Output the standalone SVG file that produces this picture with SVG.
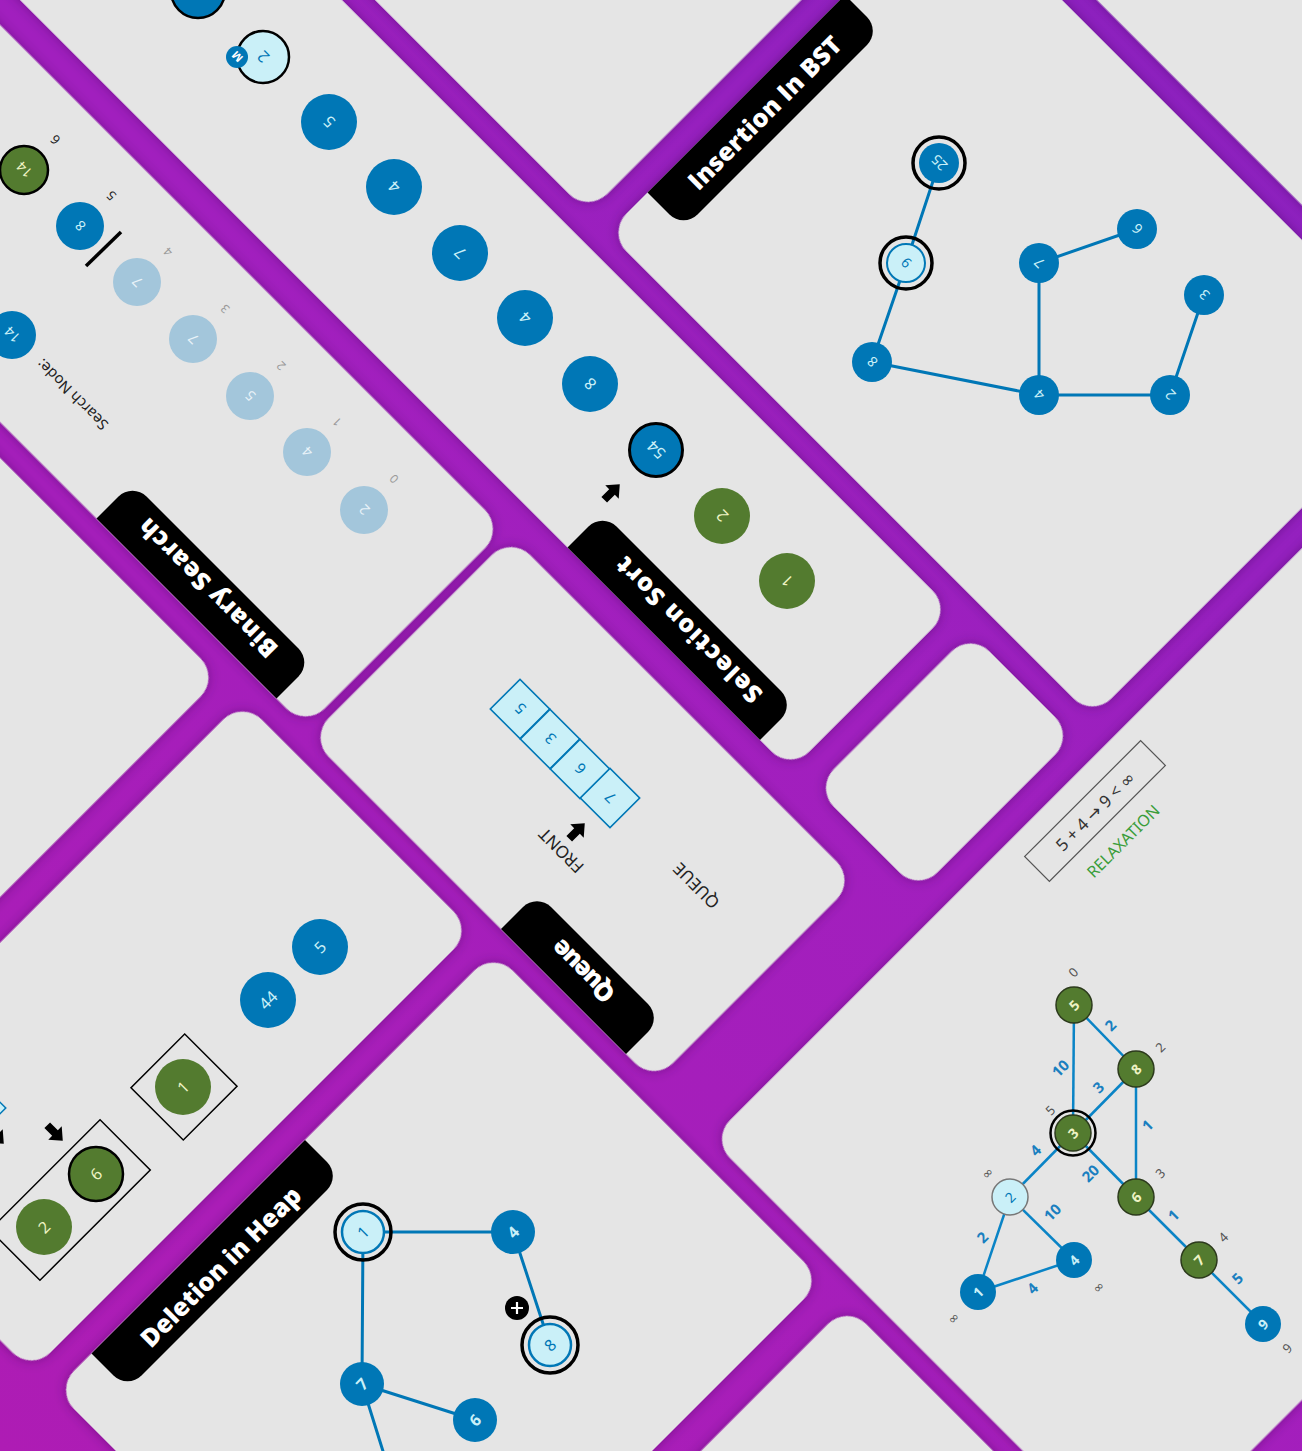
<svg xmlns="http://www.w3.org/2000/svg" width="1302" height="1451" viewBox="0 0 1302 1451">
<defs>
<linearGradient id="bg" gradientUnits="userSpaceOnUse" x1="0" y1="1451" x2="1302" y2="0">
<stop offset="0" stop-color="#ae1cb4"/><stop offset="0.55" stop-color="#a11fbe"/><stop offset="1" stop-color="#8a21c0"/>
</linearGradient>
<filter id="sh" filterUnits="userSpaceOnUse" x="-4000" y="-4000" width="10000" height="10000">
<feDropShadow dx="0" dy="0" stdDeviation="8" flood-color="#3a0752" flood-opacity="0.45"/>
</filter>
<path id="arr" d="M-4,-11H4V0H9.5L0,11L-9.5,0H-4Z"/>
<style>
.card{fill:#e5e5e5}
.tab{fill:#000}
.tt{font-family:"Open Sans","Noto Sans",sans-serif;font-weight:800;font-size:25px;fill:#fff;text-anchor:middle;dominant-baseline:central}
.lb{font-family:"Noto Sans","DejaVu Sans",sans-serif;text-anchor:middle;dominant-baseline:central}
.nb{fill:#0077b6}
.nl{fill:#caf0f8}
.ng{fill:#537b2f}
.nf{fill:#a3c6db}
.wb{fill:#caf0f8}
.wl{fill:#0077b6}
.wg{fill:#eef3c4}
.edge{stroke:#0077b6;stroke-width:3;stroke-linecap:round}
.ring{fill:none;stroke:#000;stroke-width:3.5}
.idx{fill:#9a9a9a}
.dk{fill:#222}
.wt{fill:#1a7fc0;font-weight:700}
.ds{fill:#555}
</style>
</defs>
<rect width="1302" height="1451" fill="url(#bg)"/>

<!-- cards in rotated grid (p = X-Y, s = X+Y) -->
<g id="cards" transform="matrix(0.5,-0.5,0.5,0.5,0,0)" filter="url(#sh)">
<rect id="card-a1" class="card" x="-1700" y="-400" width="1242" height="1297" rx="38"/>
<rect id="card-a2" class="card" x="-1340" y="943" width="882" height="460" rx="38"/>
<rect id="card-a3" class="card" x="-1335" y="1445" width="877" height="658" rx="38"/>
<rect id="card-a4" class="card" x="-1335" y="2152" width="877" height="900" rx="38"/>
<rect id="card-b1" class="card" x="-422" y="-500" width="397" height="1533" rx="38"/>
<rect id="card-b2" class="card" x="-428" y="1047" width="403" height="689" rx="38"/>
<rect id="card-c1" class="card" x="20" y="-500" width="322" height="2061" rx="38"/>
<rect id="card-c2" class="card" x="27" y="1603" width="311" height="207" rx="38"/>
<rect id="card-d1" class="card" x="375" y="-500" width="687" height="1301" rx="38"/>
<rect id="card-d2" class="card" x="375" y="840" width="687" height="970" rx="38"/>
<rect id="card-e1" class="card" x="1097" y="-500" width="900" height="2310" rx="38"/>
<rect id="card-f" class="card" x="-428" y="1850" width="1490" height="852" rx="38"/>
</g>
<g id="tabs" transform="matrix(0.5,-0.5,0.5,0.5,0,0)">
<path class="tab" d="M -422 615 H -378 A 28 28 0 0 1 -350 643 V 947 A 28 28 0 0 1 -378 975 H -422 Z"/>
<path class="tab" d="M 20 1115 H 62 A 28 28 0 0 1 90 1143 V 1472 A 28 28 0 0 1 62 1500 H 20 Z"/>
<path class="tab" d="M -428 1430 H -384 A 28 28 0 0 1 -356 1458 V 1652 A 28 28 0 0 1 -384 1680 H -428 Z"/>
<path class="tab" d="M 455 840 V 884 A 28 28 0 0 0 483 912 H 822 A 28 28 0 0 0 850 884 V 840 Z"/>
<path class="tab" d="M -1262 1445 V 1489 A 28 28 0 0 0 -1234 1517 H -863 A 28 28 0 0 0 -835 1489 V 1445 Z"/>
</g>
<g id="tab-labels">
<text class="tt" textLength="185" transform="translate(207 589) rotate(225)">Binary Search</text>
<text class="tt" textLength="195" transform="translate(688 631) rotate(225)">Selection Sort</text>
<text class="tt" textLength="78" transform="translate(582 972) rotate(225)">Queue</text>
<text class="tt" textLength="205" transform="translate(764 112) rotate(-45)">Insertion In BST</text>
<text class="tt" textLength="215" transform="translate(220 1266) rotate(-45)">Deletion in Heap</text>
</g>

<!-- Selection Sort -->
<g id="selection-sort">
<g id="ss-n0"><circle cx="198" cy="-9" r="27" class="nb" stroke="#000" stroke-width="2.5"/></g>
<g id="ss-n1"><circle cx="263" cy="57" r="26" class="nl" stroke="#000" stroke-width="2.5"/><text class="lb wl" font-size="16" transform="translate(263 57) rotate(225)">2</text></g>
<g id="ss-badge"><circle cx="237" cy="57" r="11" class="nb"/><text class="lb" fill="#fff" font-size="11" font-weight="700" transform="translate(237 57) rotate(225)">M</text></g>
<g id="ss-n2"><circle cx="329" cy="122" r="28" class="nb"/><text class="lb wb" font-size="16" transform="translate(329 122) rotate(225)">5</text></g>
<g id="ss-n3"><circle cx="394" cy="187" r="28" class="nb"/><text class="lb wb" font-size="16" transform="translate(394 187) rotate(225)">4</text></g>
<g id="ss-n4"><circle cx="460" cy="253" r="28" class="nb"/><text class="lb wb" font-size="16" transform="translate(460 253) rotate(225)">7</text></g>
<g id="ss-n5"><circle cx="525" cy="318" r="28" class="nb"/><text class="lb wb" font-size="16" transform="translate(525 318) rotate(225)">4</text></g>
<g id="ss-n6"><circle cx="590" cy="384" r="28" class="nb"/><text class="lb wb" font-size="16" transform="translate(590 384) rotate(225)">8</text></g>
<g id="ss-n7"><circle cx="656" cy="450" r="26.5" class="nb" stroke="#000" stroke-width="3"/><text class="lb wb" font-size="16" transform="translate(656 450) rotate(225)">54</text></g>
<g id="ss-n8"><circle cx="722" cy="516" r="28" class="ng"/><text class="lb wg" font-size="16" transform="translate(722 516) rotate(225)">2</text></g>
<g id="ss-n9"><circle cx="787" cy="581" r="28" class="ng"/><text class="lb wg" font-size="16" transform="translate(787 581) rotate(225)">1</text></g>
<use href="#arr" transform="translate(612 492) rotate(225)"/>
</g>

<!-- Binary Search -->
<g id="binary-search">
<g id="bs-n14g"><circle cx="24" cy="170" r="24" class="ng" stroke="#000" stroke-width="2.5"/><text class="lb wg" font-size="14" transform="translate(24 170) rotate(225)">14</text></g>
<text class="lb dk" font-size="13" transform="translate(55 140) rotate(225)">6</text>
<g id="bs-n8"><circle cx="80" cy="226" r="24" class="nb"/><text class="lb wb" font-size="14" transform="translate(80 226) rotate(225)">8</text></g>
<text class="lb dk" font-size="13" transform="translate(111 196) rotate(225)">5</text>
<line x1="86" y1="266" x2="121" y2="232" stroke="#000" stroke-width="3.5"/>
<g id="bs-f4"><circle cx="137" cy="282" r="24" class="nf"/><text class="lb" fill="#e8f2f8" font-size="14" transform="translate(137 282) rotate(225)">7</text></g>
<g id="bs-f3"><circle cx="193" cy="339" r="24" class="nf"/><text class="lb" fill="#e8f2f8" font-size="14" transform="translate(193 339) rotate(225)">7</text></g>
<g id="bs-f2"><circle cx="250" cy="396" r="24" class="nf"/><text class="lb" fill="#e8f2f8" font-size="14" transform="translate(250 396) rotate(225)">5</text></g>
<g id="bs-f1"><circle cx="307" cy="452" r="24" class="nf"/><text class="lb" fill="#e8f2f8" font-size="14" transform="translate(307 452) rotate(225)">4</text></g>
<g id="bs-f0"><circle cx="364" cy="510" r="24" class="nf"/><text class="lb" fill="#e8f2f8" font-size="14" transform="translate(364 510) rotate(225)">2</text></g>
<text class="lb idx" font-size="12" transform="translate(168 252) rotate(225)">4</text>
<text class="lb idx" font-size="12" transform="translate(225 309) rotate(225)">3</text>
<text class="lb idx" font-size="12" transform="translate(281 366) rotate(225)">2</text>
<text class="lb idx" font-size="12" transform="translate(337 422) rotate(225)">1</text>
<text class="lb idx" font-size="12" transform="translate(394 479) rotate(225)">0</text>
<g id="bs-target"><circle cx="12" cy="335" r="24" class="nb"/><text class="lb wb" font-size="14" transform="translate(12 335) rotate(225)">14</text></g>
<text class="lb dk" font-size="15" transform="translate(72 395) rotate(225)">Search Node:</text>
</g>

<!-- Queue -->
<g id="queue">
<g id="q-0"><rect x="-21" y="-21" width="42" height="42" class="nl" stroke="#0077b6" stroke-width="1.6" transform="translate(520 709) rotate(45)"/><text class="lb wl" font-size="15" transform="translate(520 709) rotate(225)">5</text></g>
<g id="q-1"><rect x="-21" y="-21" width="42" height="42" class="nl" stroke="#0077b6" stroke-width="1.6" transform="translate(550 739) rotate(45)"/><text class="lb wl" font-size="15" transform="translate(550 739) rotate(225)">3</text></g>
<g id="q-2"><rect x="-21" y="-21" width="42" height="42" class="nl" stroke="#0077b6" stroke-width="1.6" transform="translate(580 769) rotate(45)"/><text class="lb wl" font-size="15" transform="translate(580 769) rotate(225)">6</text></g>
<g id="q-3"><rect x="-21" y="-21" width="42" height="42" class="nl" stroke="#0077b6" stroke-width="1.6" transform="translate(610 798) rotate(45)"/><text class="lb wl" font-size="15" transform="translate(610 798) rotate(225)">7</text></g>
<use href="#arr" transform="translate(577 831) rotate(225)"/>
<text class="lb dk" font-size="17" transform="translate(561 851) rotate(225)">FRONT</text>
<text class="lb dk" font-size="17" transform="translate(696 886) rotate(225)">QUEUE</text>
</g>

<!-- Insertion In BST -->
<g id="bst">
<g id="bst-edges">
<line class="edge" x1="939" y1="163" x2="906" y2="263"/>
<line class="edge" x1="906" y1="263" x2="872" y2="362"/>
<line class="edge" x1="872" y1="362" x2="1039" y2="395"/>
<line class="edge" x1="1039" y1="395" x2="1039" y2="263"/>
<line class="edge" x1="1039" y1="263" x2="1137" y2="229"/>
<line class="edge" x1="1039" y1="395" x2="1170" y2="395"/>
<line class="edge" x1="1170" y1="395" x2="1204" y2="295"/>
</g>
<g id="bst-25"><circle cx="939" cy="163" r="20" class="nb"/><circle cx="939" cy="163" r="26" class="ring"/><text class="lb wb" font-size="14" transform="translate(939 163) rotate(225)">25</text></g>
<g id="bst-9"><circle cx="906" cy="263" r="19" class="nl" stroke="#0077b6" stroke-width="2"/><circle cx="906" cy="263" r="26" class="ring"/><text class="lb wl" font-size="14" transform="translate(906 263) rotate(225)">9</text></g>
<g id="bst-8"><circle cx="872" cy="362" r="20" class="nb"/><text class="lb wb" font-size="14" transform="translate(872 362) rotate(225)">8</text></g>
<g id="bst-4"><circle cx="1039" cy="395" r="20" class="nb"/><text class="lb wb" font-size="14" transform="translate(1039 395) rotate(225)">4</text></g>
<g id="bst-7"><circle cx="1039" cy="263" r="20" class="nb"/><text class="lb wb" font-size="14" transform="translate(1039 263) rotate(225)">7</text></g>
<g id="bst-6"><circle cx="1137" cy="229" r="20" class="nb"/><text class="lb wb" font-size="14" transform="translate(1137 229) rotate(225)">6</text></g>
<g id="bst-2"><circle cx="1170" cy="395" r="20" class="nb"/><text class="lb wb" font-size="14" transform="translate(1170 395) rotate(225)">2</text></g>
<g id="bst-3"><circle cx="1204" cy="295" r="20" class="nb"/><text class="lb wb" font-size="14" transform="translate(1204 295) rotate(225)">3</text></g>
</g>

<!-- Heap array card -->
<g id="heap-array">
<g id="ha-5"><circle cx="320" cy="947" r="28" class="nb"/><text class="lb wb" font-size="16" transform="translate(320 947) rotate(-45)">5</text></g>
<g id="ha-44"><circle cx="268" cy="1000" r="28" class="nb"/><text class="lb wb" font-size="16" transform="translate(268 1000) rotate(-45)">44</text></g>
<rect x="-38" y="-37" width="76" height="74" fill="none" stroke="#000" stroke-width="1.5" transform="translate(184 1087) rotate(-45)"/>
<g id="ha-1"><circle cx="183" cy="1087" r="28" class="ng"/><text class="lb wg" font-size="16" transform="translate(183 1087) rotate(-45)">1</text></g>
<rect x="-78" y="-35.5" width="156" height="71" fill="none" stroke="#000" stroke-width="1.5" transform="translate(70 1200) rotate(-45)"/>
<g id="ha-6"><circle cx="96" cy="1174" r="27" class="ng" stroke="#000" stroke-width="2.5"/><text class="lb wg" font-size="16" transform="translate(96 1174) rotate(-45)">6</text></g>
<g id="ha-2"><circle cx="44" cy="1227" r="28" class="ng"/><text class="lb wg" font-size="16" transform="translate(44 1227) rotate(-45)">2</text></g>
<use href="#arr" transform="translate(55 1133) rotate(-45)"/>
<use href="#arr" transform="translate(-4 1136) rotate(-45)"/>
<rect x="-14" y="-14" width="28" height="28" class="nl" stroke="#0077b6" stroke-width="1.5" transform="translate(-14 1108) rotate(45)"/>
</g>

<!-- Deletion in Heap -->
<g id="heap">
<g id="heap-edges">
<line class="edge" x1="363" y1="1232" x2="513" y2="1232"/>
<line class="edge" x1="363" y1="1232" x2="362" y2="1384"/>
<line class="edge" x1="513" y1="1232" x2="550" y2="1345"/>
<line class="edge" x1="362" y1="1384" x2="475" y2="1420"/>
<line class="edge" x1="362" y1="1384" x2="392" y2="1480"/>
</g>
<g id="heap-1"><circle cx="363" cy="1232" r="21" class="nl" stroke="#0077b6" stroke-width="2.5"/><circle cx="363" cy="1232" r="28" class="ring"/><text class="lb wl" font-size="16" transform="translate(363 1232) rotate(-45)">1</text></g>
<g id="heap-4"><circle cx="513" cy="1232" r="22" class="nb"/><text class="lb wb" font-size="16" font-weight="700" transform="translate(513 1232) rotate(-45)">4</text></g>
<g id="heap-8"><circle cx="550" cy="1345" r="21" class="nl" stroke="#0077b6" stroke-width="2.5"/><circle cx="550" cy="1345" r="28" class="ring"/><text class="lb wl" font-size="16" transform="translate(550 1345) rotate(-45)">8</text></g>
<g id="heap-7"><circle cx="362" cy="1384" r="22" class="nb"/><text class="lb wb" font-size="16" font-weight="700" transform="translate(362 1384) rotate(-45)">7</text></g>
<g id="heap-6"><circle cx="475" cy="1420" r="22" class="nb"/><text class="lb wb" font-size="16" font-weight="700" transform="translate(475 1420) rotate(-45)">6</text></g>
<g id="heap-del"><circle cx="517" cy="1308" r="12" fill="#000"/><path d="M511 1308H523M517 1302V1314" stroke="#fff" stroke-width="2.2"/></g>
</g>

<!-- Dijkstra -->
<g id="dijkstra">
<g id="dj-edges" stroke="#0a84c6" stroke-width="2.5">
<line x1="1074" y1="1005" x2="1073" y2="1133"/>
<line x1="1074" y1="1005" x2="1136" y2="1069"/>
<line x1="1136" y1="1069" x2="1073" y2="1133"/>
<line x1="1136" y1="1069" x2="1136" y2="1197"/>
<line x1="1073" y1="1133" x2="1136" y2="1197"/>
<line x1="1073" y1="1133" x2="1010" y2="1197"/>
<line x1="1010" y1="1197" x2="978" y2="1292"/>
<line x1="1010" y1="1197" x2="1074" y2="1260"/>
<line x1="978" y1="1292" x2="1074" y2="1260"/>
<line x1="1136" y1="1197" x2="1199" y2="1260"/>
<line x1="1199" y1="1260" x2="1263" y2="1324"/>
</g>
<g id="dj-5"><circle cx="1074" cy="1005" r="18" class="ng" stroke="#2c3a1c" stroke-width="1.5"/><text class="lb wg" font-size="14" font-weight="700" transform="translate(1074 1005) rotate(-45)">5</text></g>
<g id="dj-8"><circle cx="1136" cy="1069" r="18" class="ng" stroke="#2c3a1c" stroke-width="1.5"/><text class="lb wg" font-size="14" font-weight="700" transform="translate(1136 1069) rotate(-45)">8</text></g>
<g id="dj-3"><circle cx="1073" cy="1133" r="18" class="ng" stroke="#2c3a1c" stroke-width="1.5"/><circle cx="1073" cy="1133" r="22.5" fill="none" stroke="#000" stroke-width="2.5"/><text class="lb wg" font-size="14" font-weight="700" transform="translate(1073 1133) rotate(-45)">3</text></g>
<g id="dj-2"><circle cx="1010" cy="1197" r="18" class="nl" stroke="#777" stroke-width="1.5"/><text class="lb wl" font-size="14" transform="translate(1010 1197) rotate(-45)">2</text></g>
<g id="dj-6"><circle cx="1136" cy="1197" r="18" class="ng" stroke="#2c3a1c" stroke-width="1.5"/><text class="lb wg" font-size="14" font-weight="700" transform="translate(1136 1197) rotate(-45)">6</text></g>
<g id="dj-4"><circle cx="1074" cy="1260" r="18" class="nb"/><text class="lb wb" font-size="14" font-weight="700" transform="translate(1074 1260) rotate(-45)">4</text></g>
<g id="dj-1"><circle cx="978" cy="1292" r="18" class="nb"/><text class="lb wb" font-size="14" font-weight="700" transform="translate(978 1292) rotate(-45)">1</text></g>
<g id="dj-7"><circle cx="1199" cy="1260" r="18" class="ng" stroke="#2c3a1c" stroke-width="1.5"/><text class="lb wg" font-size="14" font-weight="700" transform="translate(1199 1260) rotate(-45)">7</text></g>
<g id="dj-9"><circle cx="1263" cy="1324" r="18" class="nb"/><text class="lb wb" font-size="14" font-weight="700" transform="translate(1263 1324) rotate(-45)">9</text></g>
<g id="dj-weights" font-size="15">
<text class="lb wt" transform="translate(1110 1025) rotate(-45)">2</text>
<text class="lb wt" transform="translate(1060 1068) rotate(-45)">10</text>
<text class="lb wt" transform="translate(1098 1087) rotate(-45)">3</text>
<text class="lb wt" transform="translate(1147 1125) rotate(-45)">1</text>
<text class="lb wt" transform="translate(1035 1150) rotate(-45)">4</text>
<text class="lb wt" transform="translate(1090 1173) rotate(-45)">20</text>
<text class="lb wt" transform="translate(1052 1212) rotate(-45)">10</text>
<text class="lb wt" transform="translate(1173 1215) rotate(-45)">1</text>
<text class="lb wt" transform="translate(982 1237) rotate(-45)">2</text>
<text class="lb wt" transform="translate(1032 1288) rotate(-45)">4</text>
<text class="lb wt" transform="translate(1237 1278) rotate(-45)">5</text>
</g>
<g id="dj-dist" font-size="13">
<text class="lb ds" transform="translate(1073 972) rotate(-45)">0</text>
<text class="lb ds" transform="translate(1160 1047) rotate(-45)">2</text>
<text class="lb ds" transform="translate(1050 1110) rotate(-45)">5</text>
<text class="lb ds" transform="translate(987 1173) rotate(-45)">∞</text>
<text class="lb ds" transform="translate(1160 1173) rotate(-45)">3</text>
<text class="lb ds" transform="translate(1223 1237) rotate(-45)">4</text>
<text class="lb ds" transform="translate(1098 1287) rotate(-45)">∞</text>
<text class="lb ds" transform="translate(953 1318) rotate(-45)">∞</text>
<text class="lb ds" transform="translate(1287 1348) rotate(-45)">9</text>
</g>
<g id="relaxation">
<rect x="-82" y="-17.5" width="164" height="35" fill="none" stroke="#555" stroke-width="1.2" transform="translate(1095 811) rotate(-45)"/>
<text class="lb" fill="#333" font-size="17" transform="translate(1095 811) rotate(-45)">5 + 4  →  9 &lt; ∞</text>
<text class="lb" fill="#3a9d3a" font-size="16" transform="translate(1123 841) rotate(-45)">RELAXATION</text>
</g>
</g>
</svg>
